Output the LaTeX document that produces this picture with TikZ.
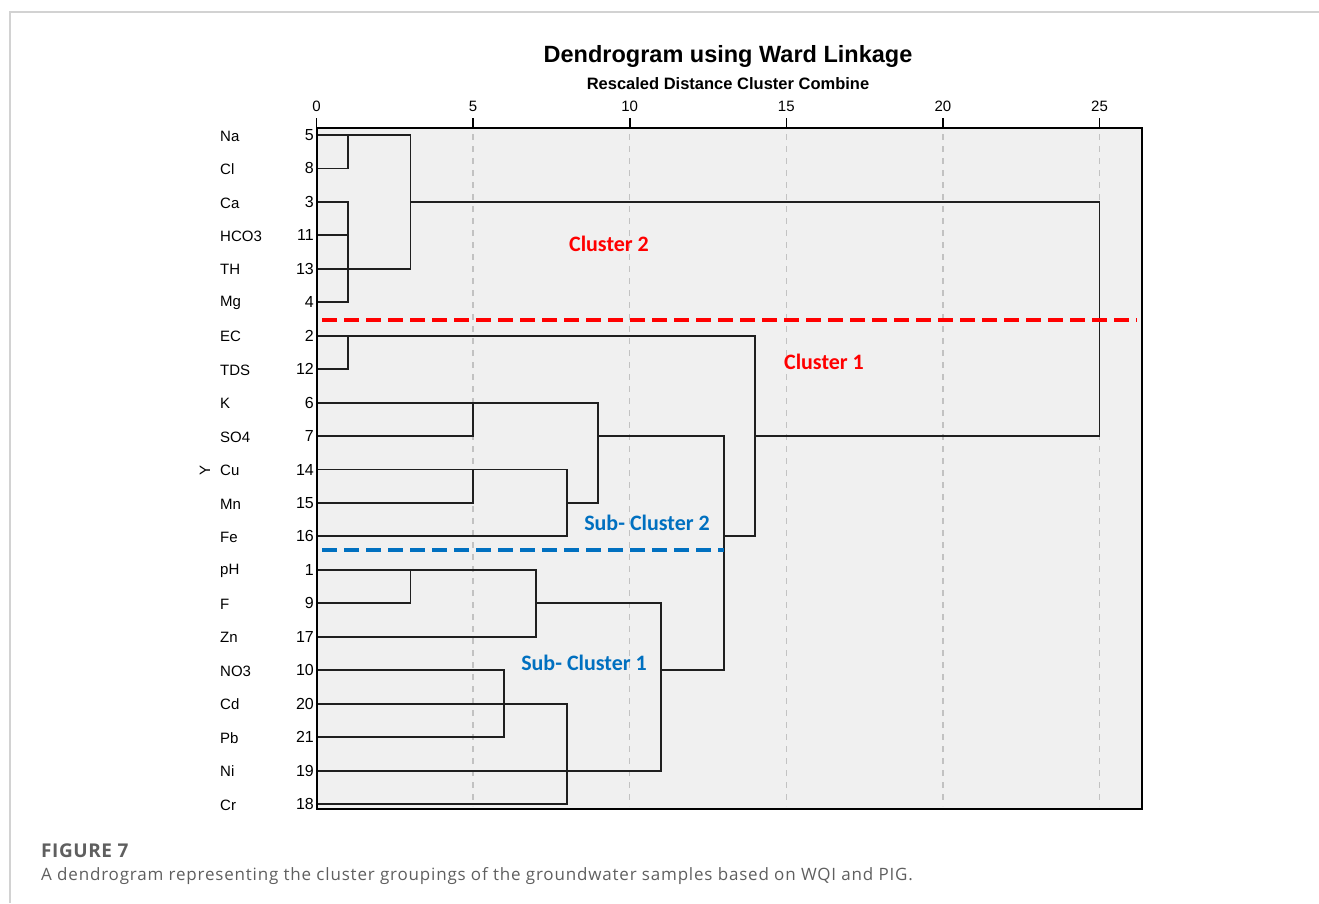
\documentclass[tikz,border=0pt]{standalone}
\usepackage{fontspec}
\setmainfont{Liberation Sans}
\newfontfamily\califont{Carlito}
\newfontfamily\capfont[LetterSpace=4.8]{Open Sans}
\newfontfamily\capboldfont[LetterSpace=3]{Open Sans}
\definecolor{plotbg}{RGB}{240,240,240}
\definecolor{cardline}{RGB}{210,210,210}
\definecolor{subblue}{RGB}{0,112,192}
\definecolor{capgray}{RGB}{95,95,95}
\begin{document}
\begin{tikzpicture}[x=1pt,y=-1pt,
  dline/.style={line width=1.9pt, draw=black!88, line cap=rect},
  gridline/.style={dash pattern=on 6pt off 6pt, line width=1.3pt, draw=black!24},
  tickmark/.style={line width=1.6pt, draw=black},
  rowname/.style={anchor=west, inner sep=0pt, font=\fontsize{15}{15}\selectfont},
  rownum/.style={anchor=east, inner sep=0pt, font=\fontsize{16}{16}\selectfont},
  ticklabel/.style={inner sep=0pt, font=\fontsize{15}{15}\selectfont},
  redlbl/.style={inner sep=0pt, text=red, font=\califont\bfseries\fontsize{22}{22}\selectfont},
  bluelbl/.style={inner sep=0pt, text=subblue, font=\califont\bfseries\fontsize{22}{22}\selectfont},
  cutred/.style={draw=red, line width=4.5pt, dash pattern=on 15pt off 7pt},
  cutblue/.style={draw=subblue, line width=4pt, dash pattern=on 15pt off 7pt}
]
\useasboundingbox (0,0) rectangle (1319,903);
% card border
\draw[cardline, line width=1.2pt] (10,903) -- (10,12) -- (1319,12);
% titles
\node[inner sep=0pt, font=\bfseries\fontsize{23.5}{24}\selectfont] (title) at (728,56) {Dendrogram using Ward Linkage};
\node[inner sep=0pt, font=\bfseries\fontsize{16.5}{17}\selectfont] (subtitle) at (728,84) {Rescaled Distance Cluster Combine};
% plot area
\fill[plotbg] (317,128) rectangle (1142,809);
\foreach \t in {5,10,...,25}
  \draw[gridline] ({316.5+31.32*\t},134) -- ({316.5+31.32*\t},806);
\foreach \t in {0,5,...,25}{
  \draw[tickmark] ({316.5+31.32*\t},128) -- ({316.5+31.32*\t},118);
  \node[ticklabel] (tick\t) at ({316.5+31.32*\t},106) {\t};
}
% row labels
\foreach \n/\num [count=\i] in {Na/5,Cl/8,Ca/3,HCO3/11,TH/13,Mg/4,EC/2,TDS/12,K/6,SO4/7,Cu/14,Mn/15,Fe/16,pH/1,F/9,Zn/17,NO3/10,Cd/20,Pb/21,Ni/19,Cr/18}{
  \node[rowname] (lbl\i) at (220,{102.5+33.45*\i}) {\n};
  \node[rownum] (num\i) at (314,{101.55+33.45*\i}) {\num};
}
\node[inner sep=0pt, rotate=90, font=\fontsize{15}{15}\selectfont] (yaxis) at (205,470) {Y};
% dendrogram
\begin{scope}[shift={(316.5,101.55)}, x=31.32pt, y=-33.45pt]
  % cluster 2 part
  \draw[dline] (0,1) -- (3,1);
  \draw[dline] (0,2) -- (1,2);
  \draw[dline] (1,1) -- (1,2);
  \foreach \r in {3,4,5,6} \draw[dline] (0,\r) -- (1,\r);
  \draw[dline] (1,3) -- (1,6);
  \draw[dline] (1,5) -- (3,5);
  \draw[dline] (3,1) -- (3,5);
  \draw[dline] (3,3) -- (25,3);
  \draw[dline] (25,3) -- (25,10);
  \draw[dline] (14,10) -- (25,10);
  % EC TDS
  \draw[dline] (0,7) -- (14,7);
  \draw[dline] (0,8) -- (1,8);
  \draw[dline] (1,7) -- (1,8);
  \draw[dline] (14,7) -- (14,13);
  \draw[dline] (13,13) -- (14,13);
  % sub-cluster 2
  \draw[dline] (0,9) -- (9,9);
  \draw[dline] (0,10) -- (5,10);
  \draw[dline] (5,9) -- (5,10);
  \draw[dline] (9,9) -- (9,12);
  \draw[dline] (9,10) -- (13,10);
  \draw[dline] (0,11) -- (8,11);
  \draw[dline] (0,12) -- (5,12);
  \draw[dline] (8,12) -- (9,12);
  \draw[dline] (5,11) -- (5,12);
  \draw[dline] (0,13) -- (8,13);
  \draw[dline] (8,11) -- (8,13);
  \draw[dline] (13,10) -- (13,17);
  % sub-cluster 1
  \draw[dline] (0,14) -- (7,14);
  \draw[dline] (0,15) -- (3,15);
  \draw[dline] (7,15) -- (11,15);
  \draw[dline] (3,14) -- (3,15);
  \draw[dline] (0,16) -- (7,16);
  \draw[dline] (7,14) -- (7,16);
  \draw[dline] (0,17) -- (6,17);
  \draw[dline] (11,17) -- (13,17);
  \draw[dline] (0,18) -- (8,18);
  \draw[dline] (0,19) -- (6,19);
  \draw[dline] (6,17) -- (6,19);
  \draw[dline] (0,20) -- (11,20);
  \draw[dline] (0,21) -- (8,21);
  \draw[dline] (8,18) -- (8,21);
  \draw[dline] (11,15) -- (11,20);
\end{scope}
% plot frame
\draw[line width=1.6pt] (317,128) rectangle (1142,809);
% cut lines
\coordinate (redA) at (322,320);
\coordinate (redB) at (1137,320);
\draw[cutred] (redA) -- (redB);
\coordinate (blueA) at (322,550);
\coordinate (blueB) at (724,550);
\draw[cutblue] (blueA) -- (blueB);
% cluster labels
\node[redlbl] (c2) at (609,244) {Cluster 2};
\node[redlbl] (c1) at (824,362) {Cluster 1};
\node[bluelbl] (sc2) at (647,523) {Sub- Cluster 2};
\node[bluelbl] (sc1) at (584,663) {Sub- Cluster 1};
% caption
\node[anchor=west, inner sep=0pt, text=capgray, font=\capboldfont\bfseries\fontsize{19}{19}\selectfont] (figno) at (41,851) {FIGURE 7};
\node[anchor=west, inner sep=0pt, text=capgray, font=\capfont\fontsize{17}{17}\selectfont] (caption) at (41,876) {A dendrogram representing the cluster groupings of the groundwater samples based on WQI and PIG.};
\end{tikzpicture}
\end{document}
